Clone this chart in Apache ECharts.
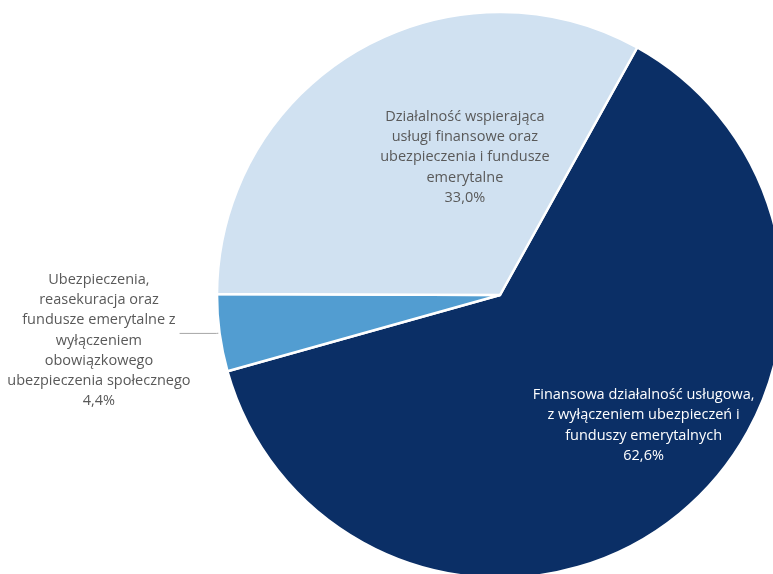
<!DOCTYPE html>
<html>
<head>
<meta charset="utf-8">
<script src="https://cdn.jsdelivr.net/npm/echarts@6/dist/echarts.min.js"></script>
<style>
html,body{margin:0;padding:0;background:#fff;}
#chart{width:773px;height:574px;}
</style>
</head>
<body>
<div id="chart"></div>
<script>
// Data
var categories = [
  'Finansowa działalność usługowa,\nz wyłączeniem ubezpieczeń i\nfunduszy emerytalnych',
  'Ubezpieczenia,\nreasekuracja oraz\nfundusze emerytalne z\nwyłączeniem\nobowiązkowego\nubezpieczenia społecznego',
  'Działalność wspierająca\nusługi finansowe oraz\nubezpieczenia i fundusze\nemerytalne'
];
var values = [62.6, 4.4, 33.0];
var colors = ['#0b2f66', '#529dd1', '#d0e1f1'];
var labelColors = ['#ffffff', '#595959', '#595959'];
var labelPositions = ['inside', 'outside', 'inside'];
var labelShift = [[54, 17], [16, 7], [38, -13]];

var FONT = '"Open Sans", Lato, sans-serif';
var FS = 14.5;

function fmtPct(v) { return v.toFixed(1).replace('.', ',') + '%'; }

var data = values.map(function (v, i) {
  var lines = categories[i].split('\n').concat([fmtPct(v)]);
  return {
    name: categories[i],
    value: v,
    itemStyle: { color: colors[i] },
    label: {
      position: labelPositions[i],
      color: labelColors[i],
      formatter: lines.map(function (l) { return '{c|' + l + '}'; }).join('\n'),
      rich: { c: { align: 'center', color: labelColors[i], fontSize: FS, lineHeight: 20.3, fontFamily: FONT } }
    },
    labelLine: { show: labelPositions[i] === 'outside' }
  };
});

var chart = echarts.init(document.getElementById('chart'));
chart.setOption({
  animation: false,
  backgroundColor: '#ffffff',
  series: [{
    type: 'pie',
    center: [500, 295],
    radius: 283,
    startAngle: 61,
    clockwise: true,
    avoidLabelOverlap: false,
    itemStyle: { borderColor: '#ffffff', borderWidth: 2.5 },
    label: { fontSize: FS, lineHeight: 20.3, fontFamily: FONT, distanceToLabelLine: 5 },
    labelLine: { length: 3, length2: 37, lineStyle: { color: '#a6a6a6', width: 1 } },
    labelLayout: function (p) {
      var s = labelShift[p.dataIndex];
      return { dx: s[0], dy: s[1] };
    },
    data: data
  }]
});
</script>
</body>
</html>
